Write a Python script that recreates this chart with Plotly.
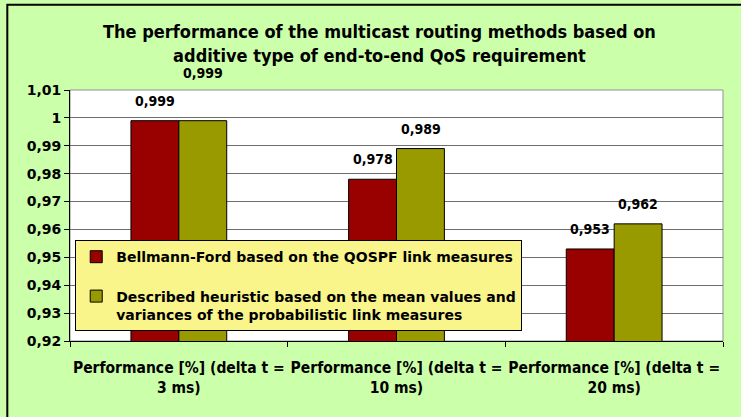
import plotly.graph_objects as go

categories = [
    "Performance [%] (delta t =<br>3 ms)",
    "Performance [%] (delta t =<br>10 ms)",
    "Performance [%] (delta t =<br>20 ms)",
]
bellman_ford = [0.999, 0.978, 0.953]
heuristic = [0.999, 0.989, 0.962]
series_names = [
    "Bellmann-Ford based on the QOSPF link measures<br> ",
    "Described heuristic based on the mean values and<br>variances of the probabilistic link measures",
]
title_text = ("The performance of the multicast routing methods based on<br>"
              "additive type of end-to-end QoS requirement")

RED = "#990000"
OLIVE = "#999900"
BG = "#CCFFAA"
COND = "DejaVu Sans Condensed, Liberation Sans Narrow, Arial Narrow, sans-serif"
WIDE = "DejaVu Sans, Verdana, sans-serif"

fig = go.Figure()
for name, vals, col in [(series_names[0], bellman_ford, RED), (series_names[1], heuristic, OLIVE)]:
    fig.add_trace(go.Bar(
        x=categories, y=vals, name=name,
        marker=dict(color=col, line=dict(color="#000000", width=1)),
    ))

# data labels, staggered like the original
for i, cat in enumerate(categories):
    for vals, shift_x in [(bellman_ford, -24), (heuristic, 24)]:
        extra = 28 if (i == 0 and shift_x > 0) else 0
        fig.add_annotation(
            x=cat, y=vals[i], xref="x", yref="y",
            text="<b>" + f"{vals[i]:.3f}".replace(".", ",") + "</b>",
            showarrow=False, xshift=shift_x, yshift=20 + extra,
            font=dict(family=COND, size=14, color="#000000"),
        )

# outer chart border
fig.add_shape(type="rect", xref="paper", yref="paper",
              x0=-0.096, x1=1.03, y0=-0.31, y1=1.34,
              line=dict(color="#000000", width=2), layer="below")

fig.update_layout(
    width=741, height=417,
    margin=dict(l=70, r=18, t=90, b=76, autoexpand=False),
    paper_bgcolor=BG, plot_bgcolor="#FFFFFF",
    separators=",.",
    barmode="group", bargap=0.56, bargroupgap=0,
    title=dict(text="<b>" + title_text + "</b>", x=0.512, xanchor="center",
               y=0.908, yanchor="top",
               font=dict(family=COND, size=18, color="#000000")),
    legend=dict(x=0.008, y=0.402, xanchor="left", yanchor="top", valign="top",
                bgcolor="#F9F58A", bordercolor="#000000", borderwidth=1,
                font=dict(family=WIDE, size=14, color="#000000", weight="bold"),
                tracegroupgap=0, itemwidth=30),
    showlegend=True,
    font=dict(family=COND, color="#000000"),
)
fig.update_xaxes(showline=True, linecolor="#000000", ticks="outside", ticklen=5,
                 tickcolor="#000000", tickson="boundaries", ticklabelstandoff=12,
                 tickangle=0, automargin=False,
                 tickfont=dict(family=COND, size=15.5, weight="bold"))
fig.update_yaxes(range=[0.92, 1.01], dtick=0.01, showgrid=True, gridcolor="#6E6E6E",
                 gridwidth=1, showline=True, linecolor="#000000", ticks="outside",
                 ticklen=5, tickcolor="#000000", automargin=False,
                 tickfont=dict(family=WIDE, size=14, weight="bold"), zeroline=False)
# gray frame on top/right of plot area
fig.add_shape(type="rect", xref="paper", yref="paper", x0=0, x1=1, y0=0, y1=1,
              line=dict(color="#909090", width=1), layer="below")

# drop the default 8px body margin so the figure sits at the window origin
fig.write_html("out.html", config={"displayModeBar": False},
               post_script="document.body.style.margin='0';")
